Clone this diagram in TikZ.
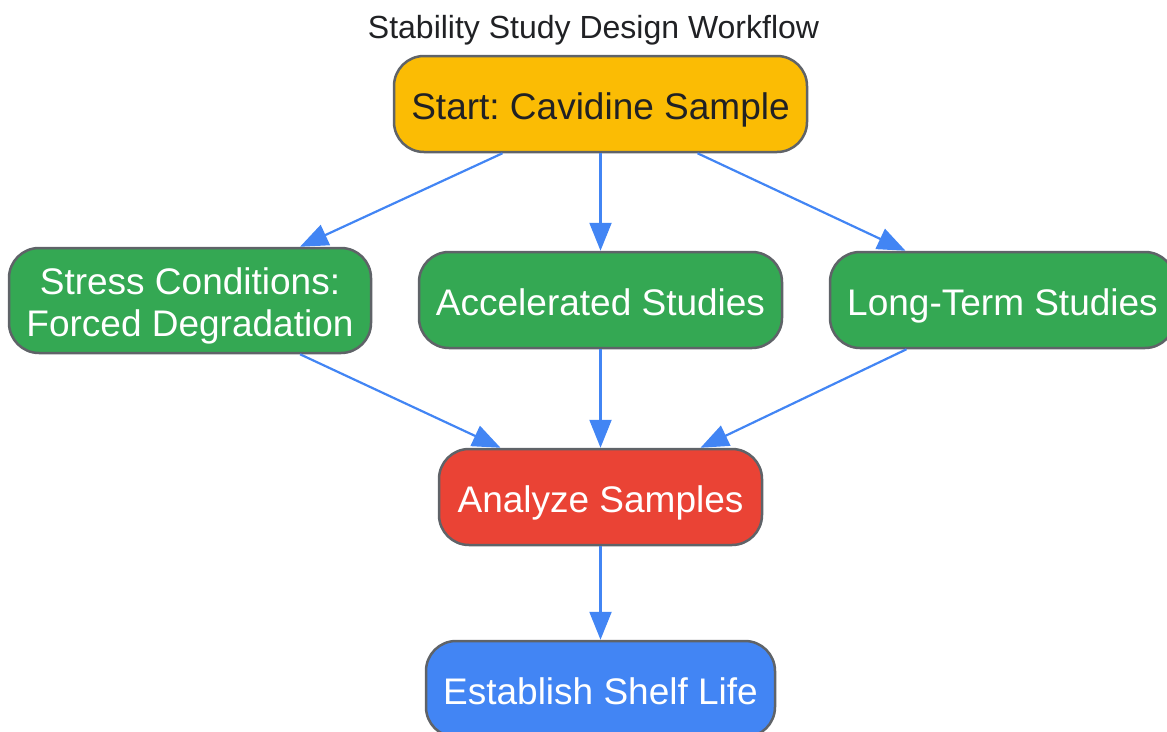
\documentclass[tikz,border=0pt]{standalone}
\usepackage{fontspec}
\setmainfont{Liberation Sans}
\usetikzlibrary{arrows.meta,calc}
\definecolor{cyellow}{HTML}{FBBC04}
\definecolor{cgreen}{HTML}{34A853}
\definecolor{cred}{HTML}{EA4335}
\definecolor{cblue}{HTML}{4285F4}
\definecolor{cborder}{HTML}{5F6368}
\definecolor{cdark}{HTML}{202124}
\begin{document}
\frenchspacing
\begin{tikzpicture}[x=1pt,y=-1pt,
  box/.style={draw=cborder,line width=2.5pt,rounded corners=30pt,minimum height=96pt,inner sep=0pt,align=center,
    font=\fontsize{37}{42}\selectfont,text=white,text height=32pt,text depth=2pt},
  conn/.style={draw=cblue,line width=2.2pt,-{Triangle[length=28pt,width=22pt]}}]
\useasboundingbox (0,0) rectangle (1167,731);
\node[font=\fontsize{32}{36}\selectfont,text=cdark] (title) at (593.5,30) {Stability Study Design Workflow};
\node[box,fill=cyellow,text=cdark,minimum width=413pt] (start) at (600.5,104) {Start: Cavidine Sample};
\node[box,fill=cgreen,minimum width=362pt,minimum height=105pt,text height=73pt] (stress) at (190,300.5) {Stress Conditions:\\Forced Degradation};
\node[box,fill=cgreen,minimum width=363pt] (accel) at (600.5,300) {Accelerated Studies};
\node[box,fill=cgreen,minimum width=345pt] (long) at (1002.5,300) {Long-Term Studies};
\node[box,fill=cred,minimum width=323pt] (analyze) at (600.5,497) {Analyze Samples};
\node[box,fill=cblue,minimum width=349pt] (est) at (600.5,689) {Establish Shelf Life};
\draw[conn] ([xshift=-98pt]start.south) -- ([xshift=110pt]stress.north);
\draw[conn] (start.south) -- (accel.north);
\draw[conn] ([xshift=97pt]start.south) -- ([xshift=-97pt]long.north);
\draw[conn] ([xshift=110pt]stress.south) -- ([xshift=-100pt]analyze.north);
\draw[conn] (accel.south) -- (analyze.north);
\draw[conn] ([xshift=-96pt]long.south) -- ([xshift=100pt]analyze.north);
\draw[conn] (analyze.south) -- (est.north);
\end{tikzpicture}
\end{document}
